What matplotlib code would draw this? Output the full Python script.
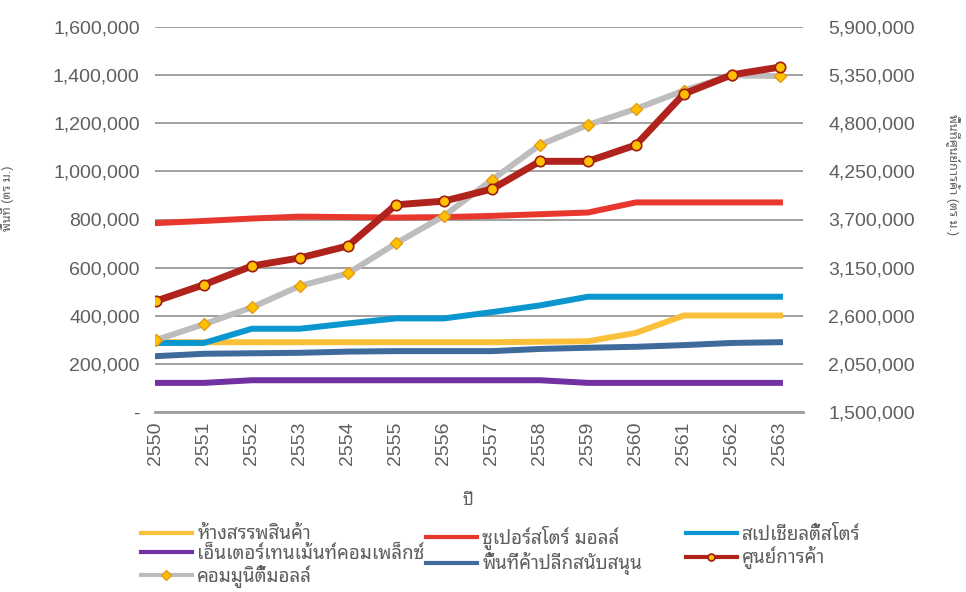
import matplotlib
matplotlib.use('Agg')
import matplotlib.pyplot as plt
import numpy as np
from matplotlib.ticker import FuncFormatter

#==========================================================
# ข้อมูล
#==========================================================

ปี = ['2550', '2551', '2552', '2553', '2554', '2555', '2556',
      '2557', '2558', '2559', '2560', '2561', '2562', '2563']

ห้างสรรพสินค้า = [290000, 290000, 290000, 290000, 290000, 290000, 290000,
                  290000, 292000, 294000, 329000, 401000, 401000, 401000]
ซูเปอร์สโตร์ = [785000, 794000, 804000, 812000, 810000, 808000, 810000,
               815000, 822000, 829000, 871000, 871000, 871000, 871000]
สเปเชียลตี้ = [287000, 287000, 346000, 346000, 368000, 389000, 389000,
              415000, 443000, 479000, 479000, 479000, 479000, 479000]
เอ็นเตอร์เทน = [121000, 121000, 132000, 132000, 132000, 132000, 132000,
               132000, 132000, 121000, 121000, 121000, 121000, 121000]
สนับสนุน = [232000, 242000, 244000, 246000, 251000, 253000, 253000,
           253000, 262000, 267000, 271000, 278000, 287000, 290000]
คอมมูนิตี้ = [299000, 365000, 435000, 524000, 576000, 701000, 815000,
             965000, 1110000, 1193000, 1260000, 1336000, 1399000, 1396000]
# แกนขวา
ศูนย์การค้า = [2768000, 2955000, 3169000, 3261000, 3398000, 3868000, 3910000,
              4048000, 4365000, 4365000, 4552000, 5136000, 5354000, 5442000]

#==========================================================
# ตั้งค่าตัวอักษร
#==========================================================

plt.rcParams['font.family'] = ['Liberation Sans', 'Noto Sans Thai Looped']
สีตัวอักษร = '#5F5F5F'

fig = plt.figure(figsize=(9.66, 5.92), dpi=100)
ax = fig.add_axes([155 / 966, 1 - 412 / 592, (803 - 155) / 966, (412 - 27) / 592])
ax2 = ax.twinx()

x = np.arange(len(ปี))
lw = 4.3

l1, = ax.plot(x, ห้างสรรพสินค้า, color='#FAC03A', lw=lw, label='ห้างสรรพสินค้า')
l2, = ax.plot(x, ซูเปอร์สโตร์, color='#E8382E', lw=lw, label='ซูเปอร์สโตร์ มอลล์')
l3, = ax.plot(x, สเปเชียลตี้, color='#0A96CF', lw=lw, label='สเปเชียลตี้สโตร์')
l4, = ax.plot(x, เอ็นเตอร์เทน, color='#7131A1', lw=lw, label='เอ็นเตอร์เทนเม้นท์คอมเพล็กซ์')
l5, = ax.plot(x, สนับสนุน, color='#3F6A9C', lw=lw, label='พื้นที่ค้าปลีกสนับสนุน')
l7, = ax.plot(x, คอมมูนิตี้, color='#BDBDBD', lw=lw,
              marker='D', ms=6.5, mfc='#FFC000', mec='#E39A1B', mew=1, label='คอมมูนิตี้มอลล์')
l6, = ax2.plot(x, ศูนย์การค้า, color='#B0231C', lw=lw + 0.7,
               marker='o', ms=7.5, mfc='#FFC000', mec='#9E1C12', mew=1.2, label='ศูนย์การค้า')

#==========================================================
# แกน
#==========================================================

ax.set_xlim(-0.02, 13.48)
ax.set_ylim(0, 1600000)
ax.set_yticks(np.arange(0, 1600001, 200000))
ax.yaxis.set_major_formatter(FuncFormatter(lambda v, p: '-' if v == 0 else f'{v:,.0f}'))
ax2.set_ylim(1500000, 5900000)
ax2.set_yticks(np.arange(1500000, 5900001, 550000))
ax2.yaxis.set_major_formatter(FuncFormatter(lambda v, p: f'{v:,.0f}'))

ax.set_xticks(x)
ax.set_xticklabels(ปี, rotation=90, rotation_mode='anchor', ha='right', va='center')
ax.grid(axis='y', color='#A0A0A0', lw=1.4)
ax.set_axisbelow(True)
for a in (ax, ax2):
    for s in ('top', 'left', 'right'):
        a.spines[s].set_visible(False)
    a.spines['bottom'].set_color('#A0A0A0')
    a.spines['bottom'].set_linewidth(1.8)
    a.tick_params(axis='both', length=0, labelsize=14, colors=สีตัวอักษร)
ax.tick_params(axis='y', pad=11)
ax.tick_params(axis='x', pad=7)
ax2.tick_params(axis='y', pad=18)

ax.set_xlabel('ปี', fontsize=12, color=สีตัวอักษร)
ax.xaxis.set_label_coords((468 - 155) / 648, -(493 - 412) / 385)
ax.set_ylabel('พื้นที่ (ตร ม.)', fontsize=9, color=สีตัวอักษร)
ax.yaxis.set_label_coords((14 - 155) / 648, (412 - 198) / 385)
ax2.set_ylabel('พื้นที่ศูนย์การค้า (ตร ม.)', fontsize=9, color=สีตัวอักษร, rotation=270, va='center')
ax2.yaxis.set_label_coords((953 - 155) / 648, (412 - 174) / 385)

#==========================================================
# คำอธิบาย (สามคอลัมน์)
#==========================================================

คอลัมน์ = [([l1, l4, l7], 141), ([l2, l5], 426), ([l3, l6], 686)]
for hs, xpos in คอลัมน์:
    leg = fig.legend(hs, [h.get_label() for h in hs], frameon=False,
                     loc='upper left', bbox_to_anchor=(xpos / 966, 1 - 526 / 592),
                     borderpad=0, borderaxespad=0,
                     fontsize=13.5, labelcolor=สีตัวอักษร, handlelength=2.7,
                     labelspacing=0.12, handletextpad=0.3)
    for h in leg.legend_handles:
        h.set_linewidth(3)
        h.set_markersize(5)

fig.savefig('out.png', dpi=100)
